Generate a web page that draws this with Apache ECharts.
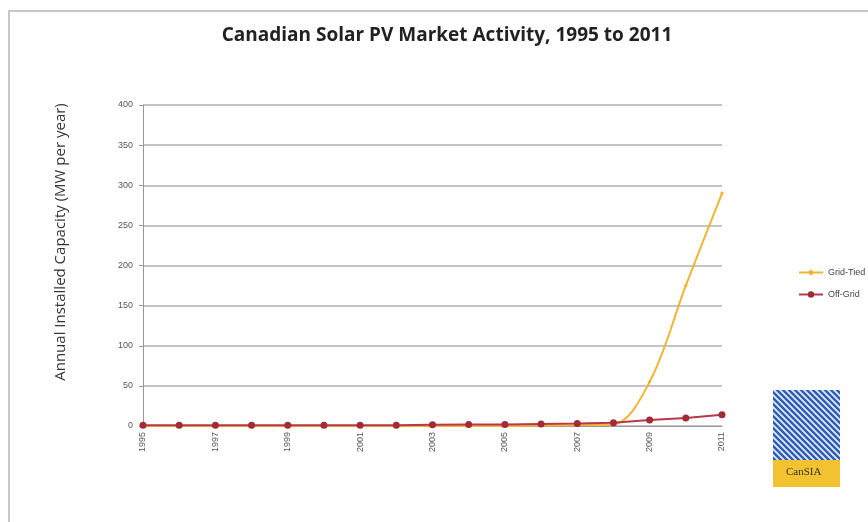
<!DOCTYPE html>
<html>
<head>
<meta charset="utf-8">
<script src="https://cdn.jsdelivr.net/npm/echarts@6/dist/echarts.min.js"></script>
<style>
html,body{margin:0;padding:0;background:#fff;}
#chart{width:868px;height:522px;}
</style>
</head>
<body>
<div id="chart"></div>
<script>
var years = ['1995','1996','1997','1998','1999','2000','2001','2002','2003','2004','2005','2006','2007','2008','2009','2010','2011'];
var gridTied = [0,0,0,0,0,0,0,0,0,0,0,0.5,1,2,55,175,290];
var offGrid = [1,1,1,1,1,1,1,1,1.5,2,2,2.5,3,4,7.5,10,14];
var yTicks = [0,50,100,150,200,250,300,350,400];
var yTitle = 'Annual Installed Capacity (MW per year)';

var chart = echarts.init(document.getElementById('chart'));

// stripe pattern for the logo
var pc = document.createElement('canvas');
pc.width = 6; pc.height = 6;
var ctx = pc.getContext('2d');
ctx.fillStyle = '#2f5db3';
ctx.fillRect(0,0,6,6);
ctx.strokeStyle = '#e3ebf8';
ctx.lineWidth = 1.8;
ctx.beginPath();
ctx.moveTo(-1,-1); ctx.lineTo(7,7);
ctx.moveTo(-4,2); ctx.lineTo(4,10);
ctx.moveTo(2,-4); ctx.lineTo(10,4);
ctx.stroke();

var option = {
  backgroundColor: '#fff',
  animation: false,
  title: {
    text: 'Canadian Solar PV Market Activity, 1995 to 2011',
    left: 442, top: 21, textAlign: 'center',
    textStyle: {fontFamily: 'Open Sans', fontWeight: 'bold', fontSize: 19, color: '#222'}
  },
  legend: {
    orient: 'vertical',
    left: 793, top: 263,
    itemWidth: 24, itemHeight: 8, itemGap: 13,
    textStyle: {fontFamily: 'Liberation Sans', fontSize: 9, color: '#444'},
    data: ['Grid-Tied','Off-Grid']
  },
  grid: {left: 143, right: 146, top: 105, bottom: 96, containLabel: false},
  xAxis: {
    type: 'category',
    data: years,
    boundaryGap: false,
    axisLine: {lineStyle: {color: '#999', width: 1}},
    axisTick: {show: false},
    axisLabel: {rotate: 90, interval: 1, fontSize: 9, color: '#555', fontFamily: 'Liberation Sans', margin: 6},
    splitLine: {show: false}
  },
  yAxis: {
    type: 'value',
    min: 0, max: 400, interval: 50,
    axisLine: {show: true, lineStyle: {color: '#999', width: 1}},
    axisTick: {show: true, length: 4, lineStyle: {color: '#999'}},
    axisLabel: {fontSize: 9, color: '#555', fontFamily: 'Liberation Sans', margin: 10,
      formatter: function(v){ return yTicks.indexOf(v) >= 0 ? String(v) : ''; }},
    splitLine: {lineStyle: {color: '#b0b0b0', width: 1.5}}
  },
  series: [
    {
      name: 'Grid-Tied', type: 'line', data: gridTied,
      smooth: 0.35,
      symbol: 'diamond', symbolSize: 4, showSymbol: true,
      lineStyle: {color: '#f5b335', width: 2},
      itemStyle: {color: '#f5b335'},
      z: 2
    },
    {
      name: 'Off-Grid', type: 'line', data: offGrid,
      symbol: 'circle', symbolSize: 7,
      lineStyle: {color: '#b73a48', width: 2},
      itemStyle: {color: '#a32a38'},
      z: 3
    }
  ],
  graphic: [
    {type: 'rect', shape: {x: 9, y: 11, width: 880, height: 520}, style: {fill: 'none', stroke: '#c8c8c8', lineWidth: 2}, silent: true, z: -1},
    {type: 'text', x: 61, y: 242, rotation: Math.PI / 2,
      style: {text: yTitle, fontFamily: 'Open Sans', fontSize: 15, fill: '#333', align: 'center', verticalAlign: 'middle'}},
    {type: 'rect', shape: {x: 773, y: 390, width: 67, height: 70}, style: {fill: {image: pc, repeat: 'repeat'}}},
    {type: 'rect', shape: {x: 773, y: 460, width: 67, height: 27}, style: {fill: '#f2c230'}},
    {type: 'text', left: 786, top: 467, style: {text: 'CanSIA', fontFamily: 'Liberation Serif', fontSize: 11, fill: '#3a3420'}}
  ]
};
chart.setOption(option);
</script>
</body>
</html>
